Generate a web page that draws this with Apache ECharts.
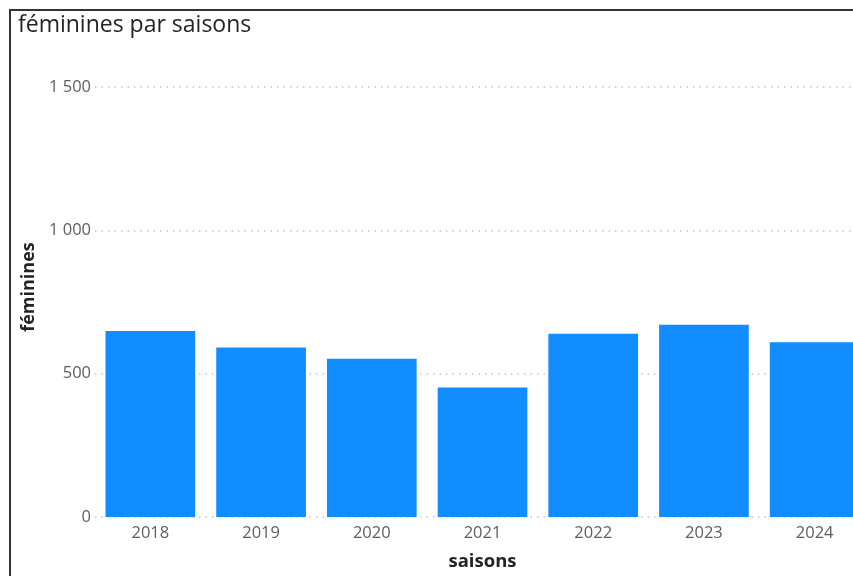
<!DOCTYPE html>
<html>
<head>
<meta charset="utf-8">
<script src="https://cdn.jsdelivr.net/npm/echarts@6/dist/echarts.min.js"></script>
<style>
html,body{margin:0;padding:0;background:#fff;overflow:hidden;width:853px;height:576px;}
#c{width:870px;height:576px;}
</style>
</head>
<body>
<div id="c"></div>
<script>
const categories = ['2018','2019','2020','2021','2022','2023','2024'];
const feminines = [649, 591, 552, 452, 639, 671, 610];
const titleText = 'féminines par saisons';
const xName = 'saisons';
const yName = 'féminines';

const chart = echarts.init(document.getElementById('c'), null, {renderer:'canvas'});
const FONT = '"Open Sans", "Noto Sans", sans-serif';
chart.setOption({
  animation:false,
  backgroundColor:'#ffffff',
  title:{
    text:titleText,
    left:13, top:9,
    textStyle:{fontFamily:FONT, fontSize:23, fontWeight:'normal', color:'#252423'}
  },
  graphic:[{
    type:'rect', silent:true,
    shape:{x:10, y:10, width:1200, height:1200},
    style:{fill:'none', stroke:'#333333', lineWidth:2}
  }],
  grid:{left:95, right:0, top:87, bottom:56, containLabel:false},
  xAxis:{
    type:'category',
    data:categories,
    name:xName,
    nameLocation:'middle',
    nameGap:35,
    nameTextStyle:{fontFamily:FONT, fontSize:18.5, fontWeight:'bold', color:'#252423'},
    axisLine:{show:false},
    axisTick:{show:false},
    axisLabel:{fontFamily:FONT, fontSize:16.5, color:'#605E5C', margin:8}
  },
  yAxis:{
    type:'value',
    min:0, max:1500, interval:500,
    name:yName,
    nameLocation:'middle',
    nameGap:54,
    nameTextStyle:{fontFamily:FONT, fontSize:18, fontWeight:'bold', color:'#252423', padding:[0,0,0,30]},
    axisLine:{show:false},
    axisTick:{show:false},
    axisLabel:{
      fontFamily:FONT, fontSize:16.5, color:'#605E5C', margin:4,
      formatter:function(v){return String(v).replace(/\B(?=(\d{3})+(?!\d))/g,' ');}
    },
    splitLine:{show:true, lineStyle:{color:'#C8C6C4', type:[1.5,5], width:1.5}}
  },
  series:[{
    type:'bar',
    data:feminines,
    barCategoryGap:'19%',
    itemStyle:{color:'#118DFF'}
  }]
});
</script>
</body>
</html>
